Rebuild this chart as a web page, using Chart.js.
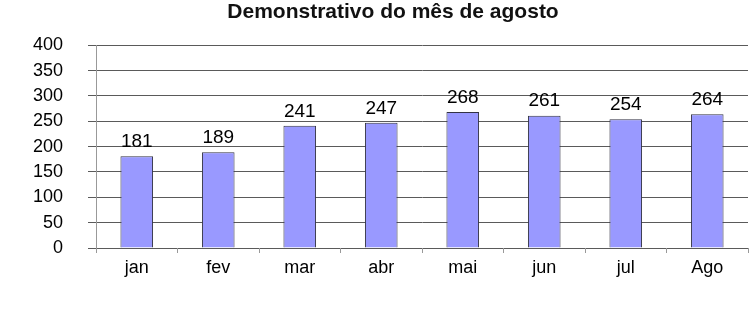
<!DOCTYPE html>
<html>
<head>
<meta charset="utf-8">
<script src="https://cdn.jsdelivr.net/npm/chart.js@4/dist/chart.umd.min.js"></script>
<style>
  html, body { margin: 0; padding: 0; background: #fff; }
  #wrap { width: 750px; height: 316px; }
</style>
</head>
<body>
<div id="wrap"><canvas id="chart" width="750" height="316"></canvas></div>
<script>
'use strict'

const months = ['jan', 'fev', 'mar', 'abr', 'mai', 'jun', 'jul', 'Ago'];
const values = [181, 189, 241, 247, 268, 261, 254, 264];
const yTicks = [0, 50, 100, 150, 200, 250, 300, 350, 400];

Chart.defaults.font.family = '"Liberation Sans", Arial, sans-serif';
Chart.defaults.color = '#000';

// value labels above each bar
const barLabels = {
  id: 'barLabels',
  afterDatasetsDraw(chart) {
    const ctx = chart.ctx;
    const meta = chart.getDatasetMeta(0);
    ctx.save();
    ctx.font = '19px "Liberation Sans", Arial, sans-serif';
    ctx.fillStyle = '#000';
    ctx.textAlign = 'center';
    ctx.textBaseline = 'bottom';
    meta.data.forEach((bar, i) => {
      ctx.fillText(String(values[i]), bar.x, bar.y - 5);
    });
    ctx.restore();
  }
};

// the title sits a bit right of the canvas centre in the original
const shiftTitle = {
  id: 'shiftTitle',
  afterLayout(chart) {
    if (chart.titleBlock) chart.titleBlock.left += 38;
  }
};

const chart = new Chart(document.getElementById('chart'), {
  type: 'bar',
  data: {
    labels: months,
    datasets: [{
      data: values,
      backgroundColor: '#9999ff',
      borderColor: '#333344',
      borderWidth: 1,
      categoryPercentage: 1,
      barPercentage: 0.4
    }]
  },
  options: {
    responsive: false,
    animation: false,
    layout: { padding: { left: 0, right: 2, top: 0, bottom: 28 } },
    plugins: {
      legend: { display: false },
      tooltip: { enabled: false },
      title: {
        display: true,
        text: 'Demonstrativo do mês de agosto',
        font: { size: 21, weight: 'bold' },
        color: '#111',
        padding: { top: 0, bottom: 20 }
      }
    },
    scales: {
      y: {
        min: 0,
        max: 400,
        afterBuildTicks(scale) {
          scale.ticks = yTicks.map(v => ({ value: v }));
        },
        afterFit(scale) { scale.width = 96; },
        ticks: { font: { size: 18 }, color: '#000', padding: 25 },
        grid: { color: '#5a5a5a', tickLength: 8, lineWidth: 1 },
        border: { display: true, color: '#999' }
      },
      x: {
        afterFit(scale) { scale.height = 40; },
        ticks: { font: { size: 18 }, color: '#000', padding: 4 },
        grid: { drawOnChartArea: false, offset: true, tickLength: 5, color: '#999' },
        border: { display: false }
      }
    }
  },
  plugins: [barLabels, shiftTitle]
});
</script>
</body>
</html>
